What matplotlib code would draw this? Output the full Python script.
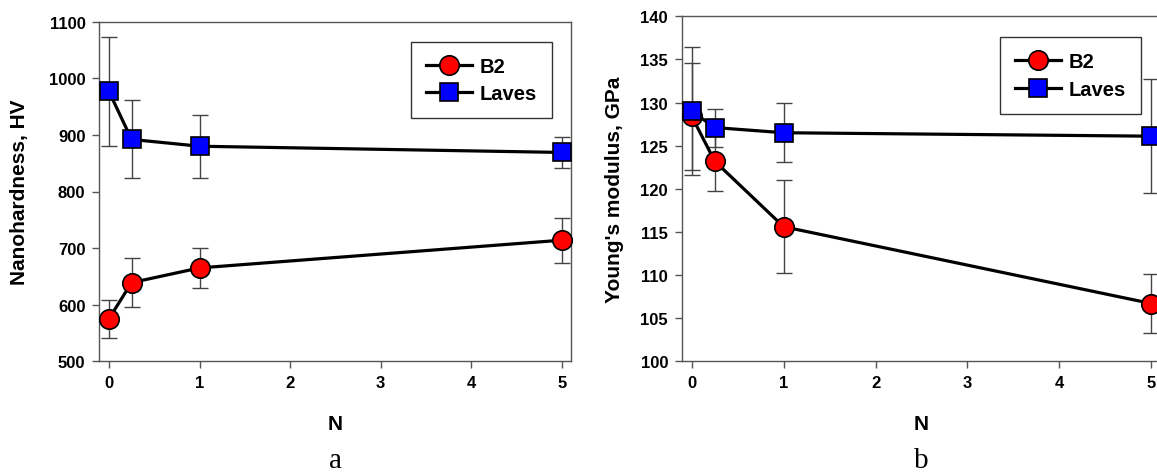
import matplotlib
matplotlib.use("Agg")
import matplotlib.pyplot as plt

plt.rcParams['font.family'] = ['Liberation Sans', 'DejaVu Sans']

# ---- data ----
N = [0, 0.25, 1, 5]

hv_b2 = [575, 639, 665, 714]
hv_b2_err = [34, 43, 35, 40]
hv_laves = [977, 892, 880, 869]
hv_laves_err = [96, 69, 56, 28]

e_b2 = [128.4, 123.2, 115.6, 106.7]
e_b2_err = [6.2, 3.5, 5.4, 3.4]
e_laves = [129.0, 127.1, 126.5, 126.1]
e_laves_err = [7.4, 2.2, 3.4, 6.6]

x_ticks = [0, 1, 2, 3, 4, 5]
hv_ticks = [500, 600, 700, 800, 900, 1000, 1100]
e_ticks = [100, 105, 110, 115, 120, 125, 130, 135, 140]

W, H = 1157, 477
fig = plt.figure(figsize=(W / 100, H / 100), dpi=100)

spine_c = '#555555'
err_c = '#444444'


def px(l, b, r, t):
    return [l / W, 1 - b / H, (r - l) / W, (b - t) / H]


def panel(ax, b2, b2e, lv, lve, yticks, ylim, legend_anchor):
    ax.errorbar(N, b2, yerr=b2e, fmt='none', ecolor=err_c, elinewidth=1.0,
                capsize=5.5, capthick=1.0, zorder=1)
    ax.errorbar(N, lv, yerr=lve, fmt='none', ecolor=err_c, elinewidth=1.0,
                capsize=5.5, capthick=1.0, zorder=1)
    ax.plot(N, b2, '-', color='black', lw=2.3, marker='o', ms=14,
            mfc='#ff0000', mec='black', mew=1.2, zorder=3, label='B2')
    ax.plot(N, lv, '-', color='black', lw=2.3, marker='s', ms=12.5,
            mfc='#0000ff', mec='black', mew=1.2, zorder=4, label='Laves')
    ax.set_xlim(-0.106, 5.1)
    ax.set_ylim(*ylim)
    ax.set_xticks(x_ticks)
    ax.set_yticks(yticks)
    for s in ax.spines.values():
        s.set_color(spine_c)
        s.set_linewidth(1.0)
    ax.tick_params(axis='both', colors=spine_c, labelcolor='black',
                   direction='out', length=5, width=1.0, labelsize=12, pad=5)
    for lab in ax.get_xticklabels() + ax.get_yticklabels():
        lab.set_fontweight('bold')
    for art in ax.lines + ax.collections:
        art.set_clip_on(False)
    leg = ax.legend(loc='upper right', bbox_to_anchor=legend_anchor,
                    bbox_transform=fig.transFigure, frameon=True, fancybox=False,
                    edgecolor='#333333', framealpha=1, prop={'weight': 'bold', 'size': 14.5},
                    handlelength=2.3, handletextpad=0.35, borderpad=0.75,
                    labelspacing=0.42, borderaxespad=0)
    leg.get_frame().set_linewidth(1.0)
    return ax


ax1 = fig.add_axes(px(99.3, 362.3, 571, 22.7))
panel(ax1, hv_b2, hv_b2_err, hv_laves, hv_laves_err, hv_ticks, (500, 1100),
      (551.7 / W, 1 - 42.7 / H))

ax2 = fig.add_axes(px(682, 362.3, 1160.5, 17.3))
panel(ax2, e_b2, e_b2_err, e_laves, e_laves_err, e_ticks, (100, 140),
      (1140.7 / W, 1 - 38.3 / H))

lab_kw = dict(fontsize=15, fontweight='bold', ha='center', va='center')
fig.text(20 / W, 1 - 192 / H, 'Nanohardness, HV', rotation=90, **lab_kw)
fig.text(614 / W, 1 - 190 / H, "Young's modulus, GPa", rotation=90, **lab_kw)
fig.text(335 / W, 1 - 425 / H, 'N', **lab_kw)
fig.text(921 / W, 1 - 425 / H, 'N', **lab_kw)

fig.text(335 / W, 1 - 461 / H, 'a', ha='center', va='center',
         fontsize=21, family=['Liberation Serif', 'DejaVu Serif'])
fig.text(921 / W, 1 - 461 / H, 'b', ha='center', va='center',
         fontsize=21, family=['Liberation Serif', 'DejaVu Serif'])

fig.savefig('out.png', dpi=100)
